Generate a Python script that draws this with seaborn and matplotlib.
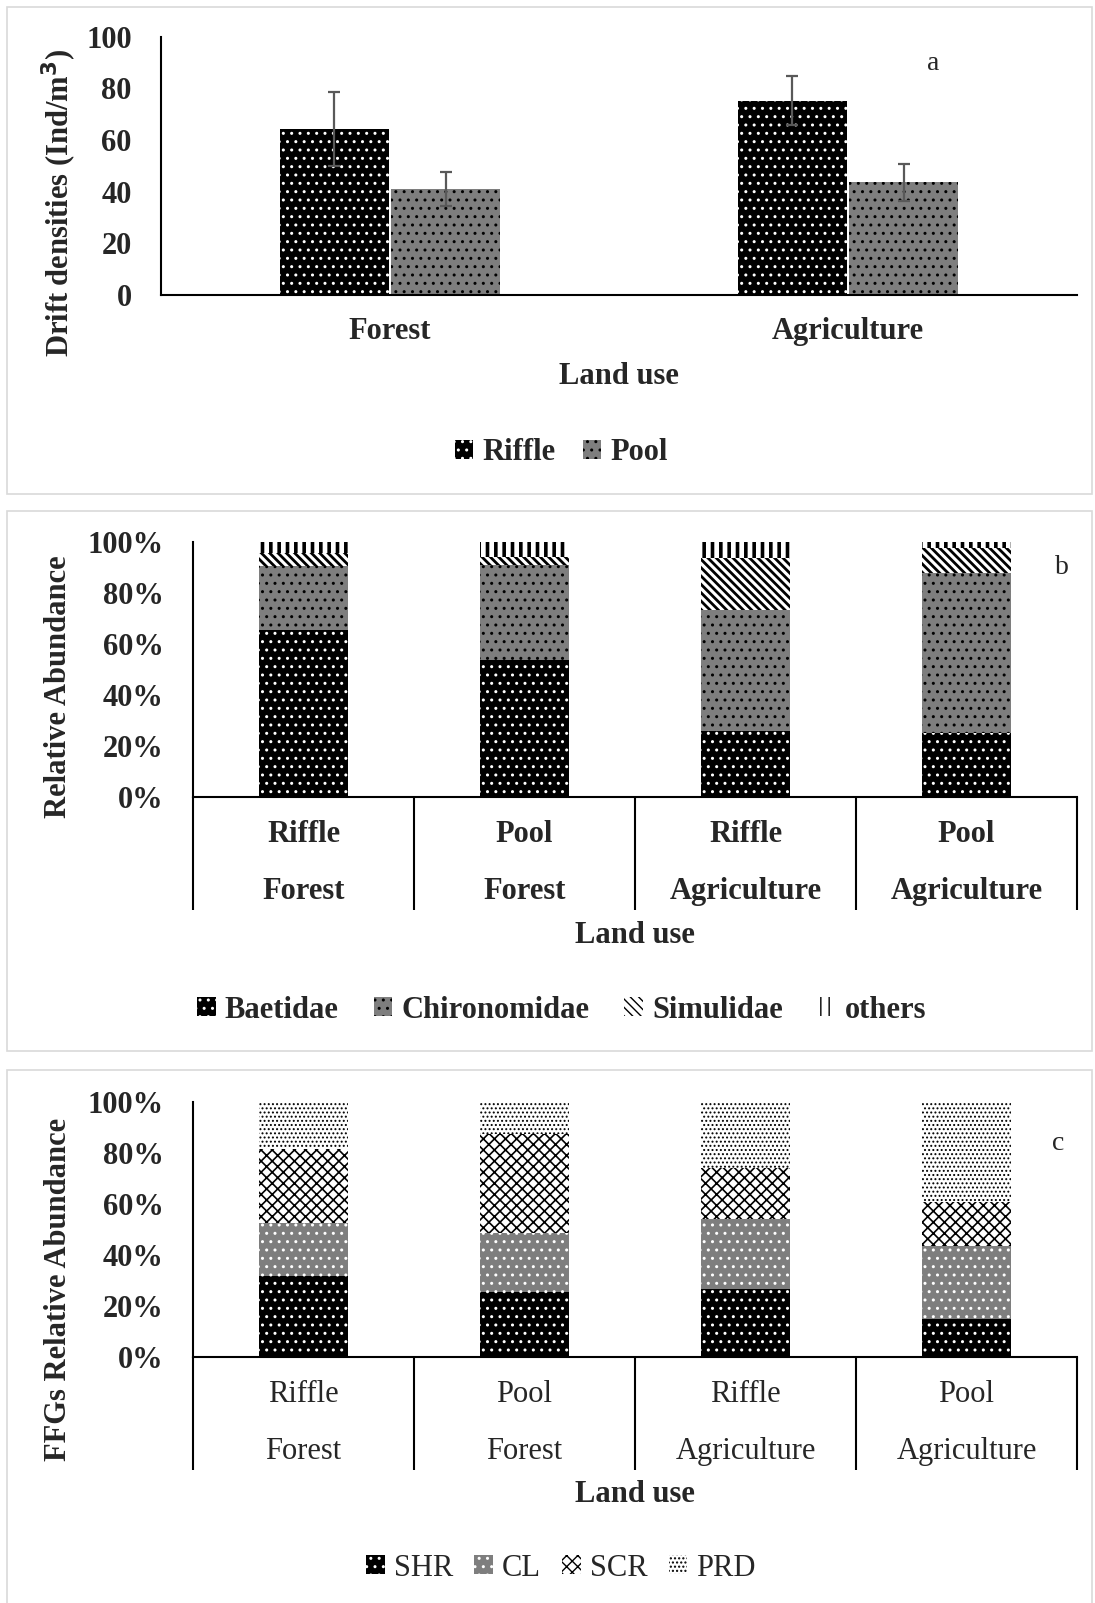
import numpy as np
import pandas as pd
import matplotlib
matplotlib.use("Agg")
import matplotlib.pyplot as plt
import matplotlib.patches as mpatches
import matplotlib.transforms as mtransforms
from matplotlib.ticker import FuncFormatter
import seaborn as sns

# ---- Panel a: drift densities (Ind/m3) by land use and habitat ----
land_use = ["Forest", "Agriculture"]
habitat = ["Riffle", "Pool"]
riffle_density = [64.4, 75.3]
riffle_se = [14.3, 9.5]
pool_density = [40.9, 43.7]
pool_se = [6.6, 7.2]

# ---- Panels b and c: sampling units ----
site_habitat = ["Riffle", "Pool", "Riffle", "Pool"]
site_land_use = ["Forest", "Forest", "Agriculture", "Agriculture"]

# b: relative abundance of drifting taxa (%)
taxa = ["Baetidae", "Chironomidae", "Simulidae", "others"]
baetidae = [65.5, 53.5, 26.0, 25.0]
chironomidae = [24.8, 37.5, 47.3, 62.7]
simulidae = [5.2, 3.2, 20.5, 9.8]
others = [4.5, 5.8, 6.2, 2.5]

# c: relative abundance of functional feeding groups (%)
ffgs = ["SHR", "CL", "SCR", "PRD"]
shr = [31.6, 25.5, 26.5, 14.9]
cl = [20.7, 22.9, 27.4, 28.6]
scr = [29.0, 38.9, 20.0, 17.3]
prd = [18.7, 12.7, 26.1, 39.2]

W, H = 1095, 1603
sns.set_theme(style="white")
plt.rcParams["font.family"] = ["Liberation Serif", "DejaVu Serif"]
plt.rcParams["font.weight"] = "bold"
plt.rcParams["axes.linewidth"] = 1.5

# fill styles (face, hatch colour, hatch pattern, hatch width)
FILLS = {
    "dots":    dict(facecolor="black",   edgecolor="white", hatch="..",       hlw=1.0),
    "checkB":  dict(facecolor="#7e7e7e", edgecolor="black", hatch="..",       hlw=1.0),
    "checkW":  dict(facecolor="#7e7e7e", edgecolor="white", hatch="..",       hlw=1.0),
    "diag":    dict(facecolor="white",   edgecolor="black", hatch="\\\\\\\\", hlw=2.0),
    "vert":    dict(facecolor="white",   edgecolor="black", hatch="||",       hlw=2.6),
    "weave":   dict(facecolor="white",   edgecolor="black", hatch="xxx",      hlw=1.2),
    "fine":    dict(facecolor="white",   edgecolor="black", hatch="....",     hlw=0.9),
}


def style_patch(p, key):
    f = FILLS[key]
    p.set_facecolor(f["facecolor"])
    p.set_edgecolor(f["edgecolor"])
    p.set_hatch(f["hatch"])
    p.set_linewidth(0)
    if hasattr(p, "set_hatch_linewidth"):
        p.set_hatch_linewidth(f["hlw"])


def handle(key, label):
    p = mpatches.Patch(label=label)
    style_patch(p, key)
    return p


def fx(x):
    return x / W


def fy(y):
    return 1 - y / H


fig = plt.figure(figsize=(W / 100, H / 100), dpi=100)

# panel frames
for top, bottom in [(7, 494), (511, 1051), (1070, 1620)]:
    fig.patches.append(mpatches.Rectangle((fx(7), fy(bottom)), fx(1092) - fx(7), fy(top) - fy(bottom),
                                          transform=fig.transFigure, fill=False,
                                          edgecolor="#d9d9d9", linewidth=1.2))

TICK_FS = 22
LAB_FS = 22

# ---------------- Panel a ----------------
ax_a = fig.add_axes([fx(161), fy(295), fx(1077) - fx(161), fy(36.8) - fy(295)])
df_a = pd.DataFrame({
    "land_use": land_use * 2,
    "habitat": [habitat[0]] * 2 + [habitat[1]] * 2,
    "density": riffle_density + pool_density,
})
sns.barplot(data=df_a, x="land_use", y="density", hue="habitat", order=land_use,
            hue_order=habitat, palette={"Riffle": "black", "Pool": "#7e7e7e"},
            saturation=1, width=0.485, gap=0.02, errorbar=None, legend=False, ax=ax_a)
for cont, key, se in zip(ax_a.containers, ["dots", "checkB"], [riffle_se, pool_se]):
    xs, ys = [], []
    for bar in cont:
        style_patch(bar, key)
        xs.append(bar.get_x() + bar.get_width() / 2)
        ys.append(bar.get_height())
    ax_a.errorbar(xs, ys, yerr=se, fmt="none", ecolor="#595959", elinewidth=1.6,
                  capsize=4.3, capthick=1.6, zorder=5)

ax_a.set_ylim(0, 100)
ax_a.set_xlim(-0.5, 1.5)
ax_a.set_yticks(range(0, 101, 20))
ax_a.tick_params(axis="y", length=0, pad=21, labelsize=TICK_FS)
ax_a.tick_params(axis="x", length=0, labelbottom=False)
for lbl in ax_a.get_yticklabels():
    lbl.set_fontweight("bold")
ax_a.set_xlabel("")
ax_a.set_ylabel("")
sns.despine(ax=ax_a)
for s in ["left", "bottom"]:
    ax_a.spines[s].set_color("black")
for i, name in enumerate(land_use):
    ax_a.annotate(name, xy=(i, 0), xycoords=("data", "axes fraction"), xytext=(0, -26.6),
                  textcoords="offset points", ha="center", va="center",
                  fontsize=TICK_FS, fontweight="bold")
ax_a.text(0.5, -(377 - 295) / 258.2, "Land use", transform=ax_a.transAxes,
          ha="center", va="center", fontsize=LAB_FS, fontweight="bold")
fig.legend(handles=[handle("dots", "Riffle"), handle("checkB", "Pool")],
           loc="center", bbox_to_anchor=(fx(561), fy(453)), ncol=2, frameon=False,
           handlelength=0.6, handleheight=0.6, handletextpad=0.3, columnspacing=0.9,
           prop=dict(size=TICK_FS, weight="bold"))
fig.text(fx(59), fy(203), "Drift densities (Ind/m$^\\mathbf{3}$)", rotation=90,
         ha="center", va="center", fontsize=LAB_FS, fontweight="bold")
fig.text(fx(933), fy(64), "a", ha="center", va="center", fontsize=20, fontweight="normal")


# ---------------- Panels b and c ----------------
site_keys = [f"{h} {l}" for h, l in zip(site_habitat, site_land_use)]


def stacked_panel(ax, layers, keys, label_weight):
    cum = np.cumsum(np.array(layers, dtype=float), axis=0)
    df = pd.DataFrame({"site": site_keys})
    # tallest cumulative layer first; lower layers paint over it
    for i in range(len(layers) - 1, -1, -1):
        df["value"] = cum[i]
        sns.barplot(data=df, x="site", y="value", order=site_keys,
                    color=FILLS[keys[i]]["facecolor"], saturation=1, width=0.40,
                    errorbar=None, ax=ax)
        for bar in ax.containers[-1]:
            style_patch(bar, keys[i])
    ax.set_ylim(0, 100)
    ax.set_xlim(-0.5, len(site_keys) - 0.5)
    ax.set_yticks(range(0, 101, 20))
    ax.yaxis.set_major_formatter(FuncFormatter(lambda v, _: f"{v:.0f}%"))
    ax.tick_params(axis="y", length=0, pad=21, labelsize=TICK_FS)
    for lbl in ax.get_yticklabels():
        lbl.set_fontweight("bold")
    ax.tick_params(axis="x", length=0, labelbottom=False)
    ax.set_xlabel("")
    ax.set_ylabel("")
    sns.despine(ax=ax)
    for s in ["left", "bottom"]:
        ax.spines[s].set_color("black")
    blend = mtransforms.blended_transform_factory(ax.transData, ax.transAxes)
    depth = 113 / 255
    for b in np.arange(-0.5, len(site_keys), 1.0):
        ax.plot([b, b], [0, -depth], transform=blend, color="black", lw=1.5,
                clip_on=False, solid_capstyle="butt")
    for i, (h, l) in enumerate(zip(site_habitat, site_land_use)):
        ax.annotate(h, xy=(i, 0), xycoords=("data", "axes fraction"), xytext=(0, -27),
                    textcoords="offset points", ha="center", va="center",
                    fontsize=TICK_FS, fontweight=label_weight)
        ax.annotate(l, xy=(i, 0), xycoords=("data", "axes fraction"), xytext=(0, -68),
                    textcoords="offset points", ha="center", va="center",
                    fontsize=TICK_FS, fontweight=label_weight)
    ax.text(0.5, -138 / 255, "Land use", transform=ax.transAxes,
            ha="center", va="center", fontsize=LAB_FS, fontweight="bold")


ax_b = fig.add_axes([fx(193), fy(797), fx(1077) - fx(193), fy(541.7) - fy(797)])
stacked_panel(ax_b, [baetidae, chironomidae, simulidae, others],
              ["dots", "checkB", "diag", "vert"], "bold")
fig.legend(handles=[handle(k, n) for k, n in zip(["dots", "checkB", "diag", "vert"], taxa)],
           loc="center", bbox_to_anchor=(fx(562), fy(1010)), ncol=4, frameon=False,
           handlelength=0.6, handleheight=0.6, handletextpad=0.3, columnspacing=1.15,
           prop=dict(size=TICK_FS, weight="bold"))
fig.text(fx(59), fy(687), "Relative Abundance", rotation=90,
         ha="center", va="center", fontsize=LAB_FS, fontweight="bold")
fig.text(fx(1062), fy(568), "b", ha="center", va="center", fontsize=20, fontweight="normal")

ax_c = fig.add_axes([fx(193), fy(1356.7), fx(1077) - fx(193), fy(1101.7) - fy(1356.7)])
stacked_panel(ax_c, [shr, cl, scr, prd], ["dots", "checkW", "weave", "fine"], "normal")
fig.legend(handles=[handle(k, n) for k, n in zip(["dots", "checkW", "weave", "fine"], ffgs)],
           loc="center", bbox_to_anchor=(fx(561), fy(1568)), ncol=4, frameon=False,
           handlelength=0.6, handleheight=0.6, handletextpad=0.3, columnspacing=0.7,
           prop=dict(size=TICK_FS, weight="normal"))
fig.text(fx(59), fy(1289), "FFGs Relative Abundance", rotation=90,
         ha="center", va="center", fontsize=LAB_FS, fontweight="bold")
fig.text(fx(1058), fy(1144), "c", ha="center", va="center", fontsize=20, fontweight="normal")

fig.savefig("out.png", dpi=100, facecolor="white")
